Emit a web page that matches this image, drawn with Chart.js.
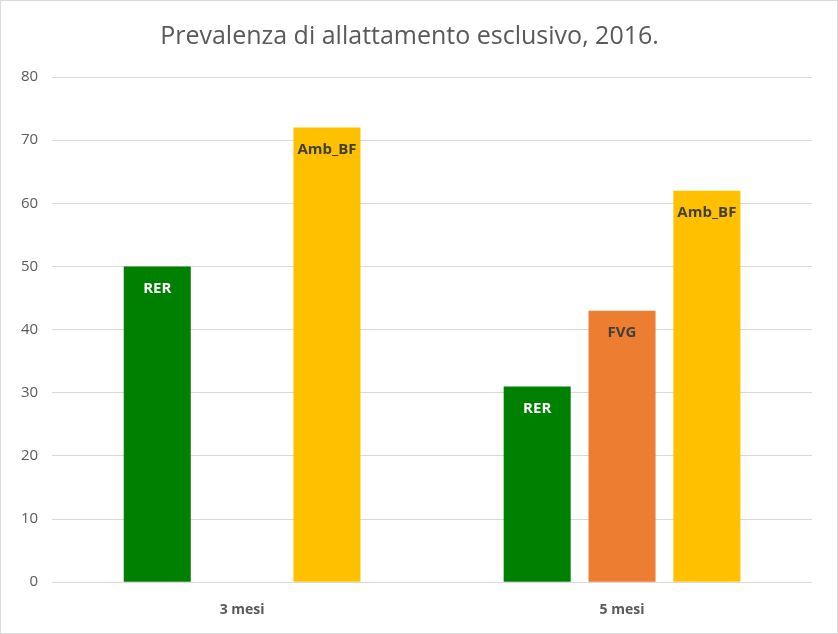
<!DOCTYPE html>
<html>
<head>
<meta charset="utf-8">
<script src="https://cdn.jsdelivr.net/npm/chart.js@4"></script>
<style>
  html, body { margin: 0; padding: 0; background: #fff; }
  .frame { width: 836px; height: 632px; border: 1px solid #d9d9d9; }
</style>
</head>
<body>
<div class="frame"><canvas id="chart" width="836" height="632"></canvas></div>
<script>
const categories = ["3 mesi", "5 mesi"];
const seriesNames = ["RER", "FVG", "Amb_BF"];
const rerValues = [50, 31];
const fvgValues = [null, 43];
const ambValues = [72, 62];
const yTicks = [0, 10, 20, 30, 40, 50, 60, 70, 80];

const barColors = ["#008000", "#ed7d31", "#ffc000"];
const labelColors = ["#ffffff", "#404040", "#404040"];

// draws the series name inside the top of each bar
const barLabels = {
  id: "barLabels",
  afterDatasetsDraw(chart) {
    const ctx = chart.ctx;
    ctx.save();
    ctx.font = "bold 15px 'Open Sans', sans-serif";
    ctx.textAlign = "center";
    ctx.textBaseline = "middle";
    chart.data.datasets.forEach((ds, i) => {
      const meta = chart.getDatasetMeta(i);
      meta.data.forEach((bar, j) => {
        if (ds.data[j] == null) return;
        ctx.fillStyle = labelColors[i];
        ctx.fillText(ds.label, bar.x, bar.y + 22);
      });
    });
    ctx.restore();
  }
};

new Chart(document.getElementById("chart"), {
  type: "bar",
  data: {
    labels: categories,
    datasets: [
      { label: seriesNames[0], data: rerValues, backgroundColor: barColors[0] },
      { label: seriesNames[1], data: fvgValues, backgroundColor: barColors[1] },
      { label: seriesNames[2], data: ambValues, backgroundColor: barColors[2] }
    ]
  },
  options: {
    responsive: false,
    animation: false,
    categoryPercentage: 0.67,
    barPercentage: 0.79,
    layout: { padding: { left: 6, right: 25, top: 0, bottom: 4 } },
    plugins: {
      legend: { display: false },
      tooltip: { enabled: false },
      title: {
        display: true,
        text: "Prevalenza di allattamento esclusivo, 2016.",
        color: "#595959",
        font: { family: "'Open Sans', sans-serif", size: 25, weight: "normal" },
        padding: { top: 21, bottom: 25 }
      }
    },
    scales: {
      x: {
        grid: { display: false },
        border: { display: false },
        ticks: {
          color: "#595959",
          font: { family: "'Open Sans', sans-serif", size: 14, weight: "bold" },
          padding: 11
        }
      },
      y: {
        min: 0,
        max: 80,
        afterBuildTicks(scale) { scale.ticks = yTicks.map(v => ({ value: v })); },
        grid: { color: "#d9d9d9", lineWidth: 1, drawTicks: false },
        border: { display: false },
        ticks: {
          color: "#595959",
          font: { family: "'Open Sans', sans-serif", size: 15 },
          padding: 14
        }
      }
    }
  },
  plugins: [barLabels]
});
</script>
</body>
</html>
